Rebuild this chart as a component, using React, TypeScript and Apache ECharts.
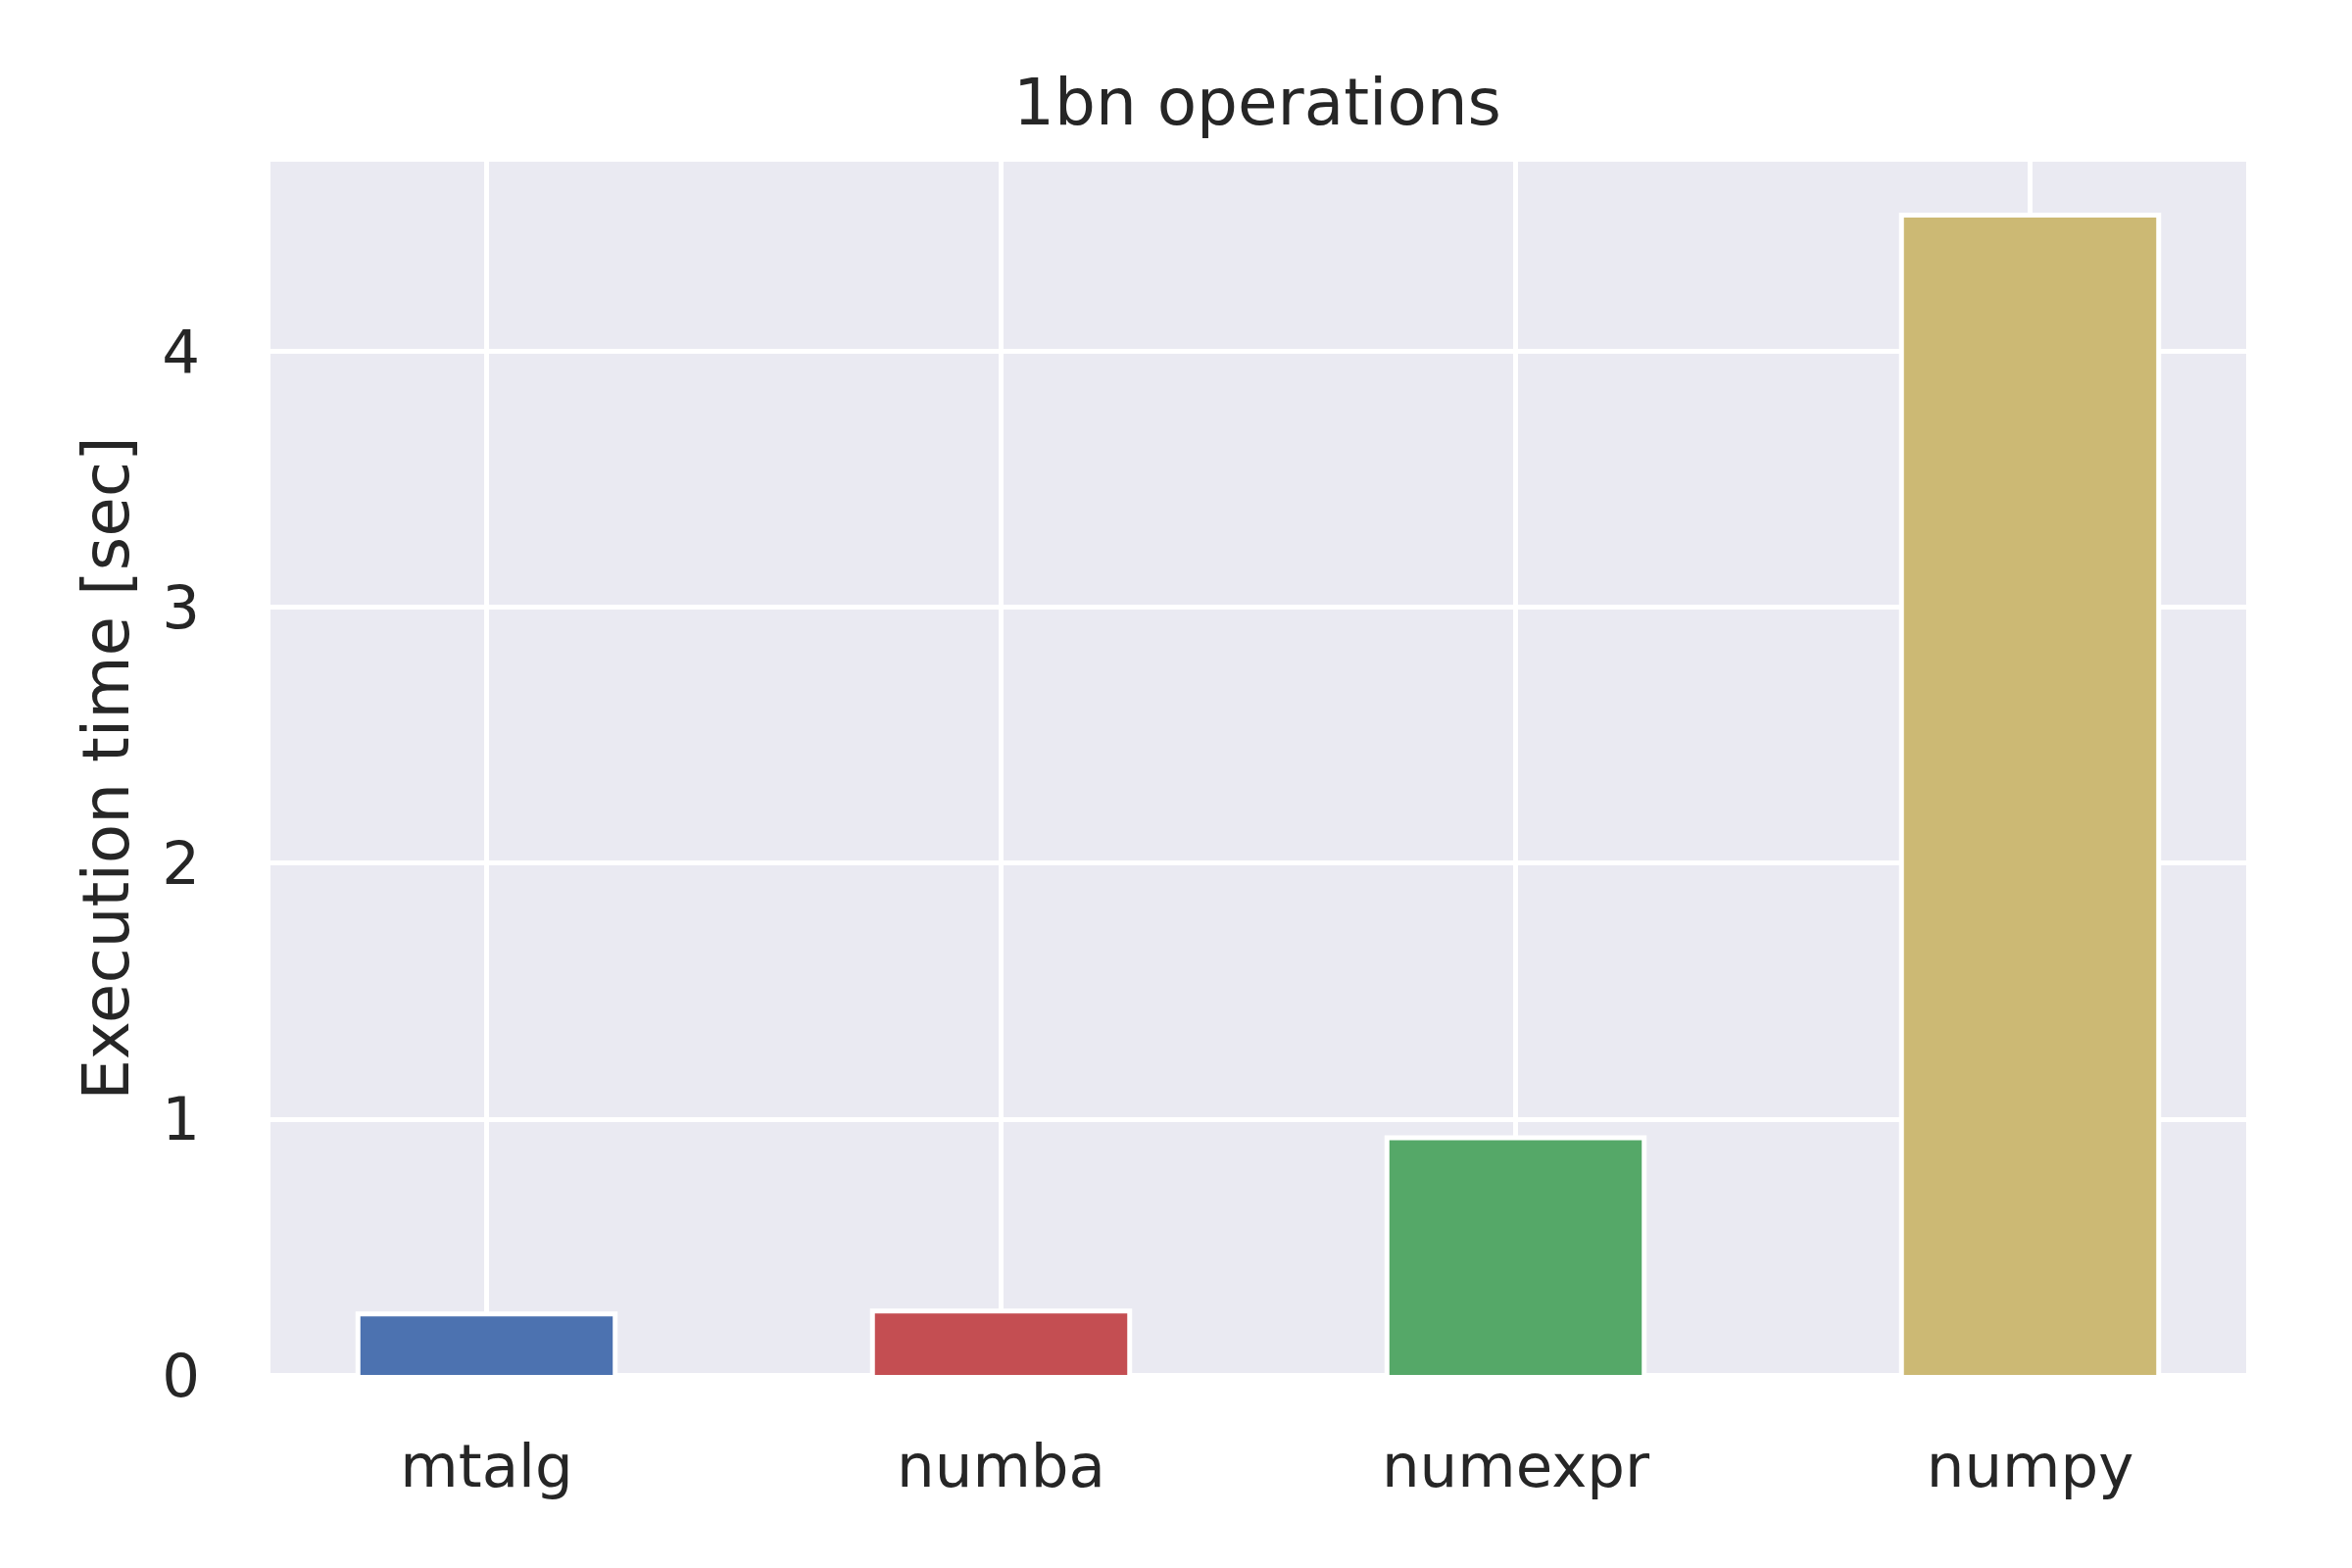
import { useEffect, useRef } from "react";
import * as echarts from "echarts";

// values
const categories = ["mtalg", "numba", "numexpr", "numpy"];
const execTimes = [0.238, 0.2496, 0.927, 4.531];
const barColors = ["#4C72B0", "#C44E52", "#55A868", "#CCB974"];
const yTicks = [0, 1, 2, 3, 4];
const xTicks = [0, 1, 2, 3];

const TEXT = "#262626";
const FONT = "DejaVu Sans";
const BAR_WIDTH = 0.5; // in category units, like matplotlib's width=0.5
const EDGE = 5;

export default function App() {
  const chartRef = useRef<HTMLDivElement>(null);

  useEffect(() => {
    if (!chartRef.current) return;
    const chart = echarts.init(chartRef.current, null, { renderer: "svg" });

    chart.setOption({
      animation: false,
      backgroundColor: "#ffffff",
      title: {
        text: "1bn operations",
        left: 1278,
        textAlign: "center",
        top: 66,
        textStyle: { color: TEXT, fontFamily: FONT, fontSize: 66, fontWeight: "normal" },
      },
      grid: {
        left: 276,
        top: 165,
        width: 2016,
        height: 1238,
        show: true,
        backgroundColor: "#EAEAF2",
        borderWidth: 0,
      },
      xAxis: {
        type: "value",
        min: -0.42,
        max: 3.42,
        axisLine: { show: false },
        axisTick: { show: false, customValues: xTicks },
        axisLabel: {
          customValues: xTicks,
          formatter: (v: number) => categories[Math.round(v)] ?? "",
          color: TEXT,
          fontFamily: FONT,
          fontSize: 61,
          margin: 62,
        },
        splitLine: { show: true, lineStyle: { color: "#ffffff", width: 5 } },
      },
      yAxis: {
        type: "value",
        min: 0,
        max: 4.74,
        name: "Execution time [sec]",
        nameLocation: "middle",
        nameGap: 135,
        nameTextStyle: { color: TEXT, fontFamily: FONT, fontSize: 66 },
        axisLine: { show: false },
        axisTick: { show: false, customValues: yTicks },
        axisLabel: {
          customValues: yTicks,
          color: TEXT,
          fontFamily: FONT,
          fontSize: 61,
          margin: 72,
        },
        splitLine: { show: true, lineStyle: { color: "#ffffff", width: 5 } },
      },
      series: [
        {
          type: "custom",
          clip: true,
          encode: { x: 0, y: 1 },
          data: execTimes.map((v, i) => [i, v]),
          renderItem: (params: any, api: any) => {
            const i = api.value(0);
            const v = api.value(1);
            const bl = api.coord([i - BAR_WIDTH / 2, 0]);
            const tr = api.coord([i + BAR_WIDTH / 2, v]);
            return {
              type: "group",
              children: [
                {
                  type: "rect",
                  shape: { x: bl[0], y: tr[1], width: tr[0] - bl[0], height: bl[1] - tr[1] },
                  style: { fill: barColors[params.dataIndex] },
                },
                {
                  type: "polyline",
                  shape: {
                    points: [
                      [bl[0], bl[1]],
                      [bl[0], tr[1]],
                      [tr[0], tr[1]],
                      [tr[0], bl[1]],
                    ],
                  },
                  style: { fill: "none", stroke: "#ffffff", lineWidth: EDGE, lineJoin: "miter" },
                },
              ],
            };
          },
        },
      ],
    });

    return () => {
      chart.dispose();
    };
  }, []);

  return (
    <div
      ref={chartRef}
      style={{ position: "absolute", left: 0, top: 0, width: 2400, height: 1600 }}
    />
  );
}
